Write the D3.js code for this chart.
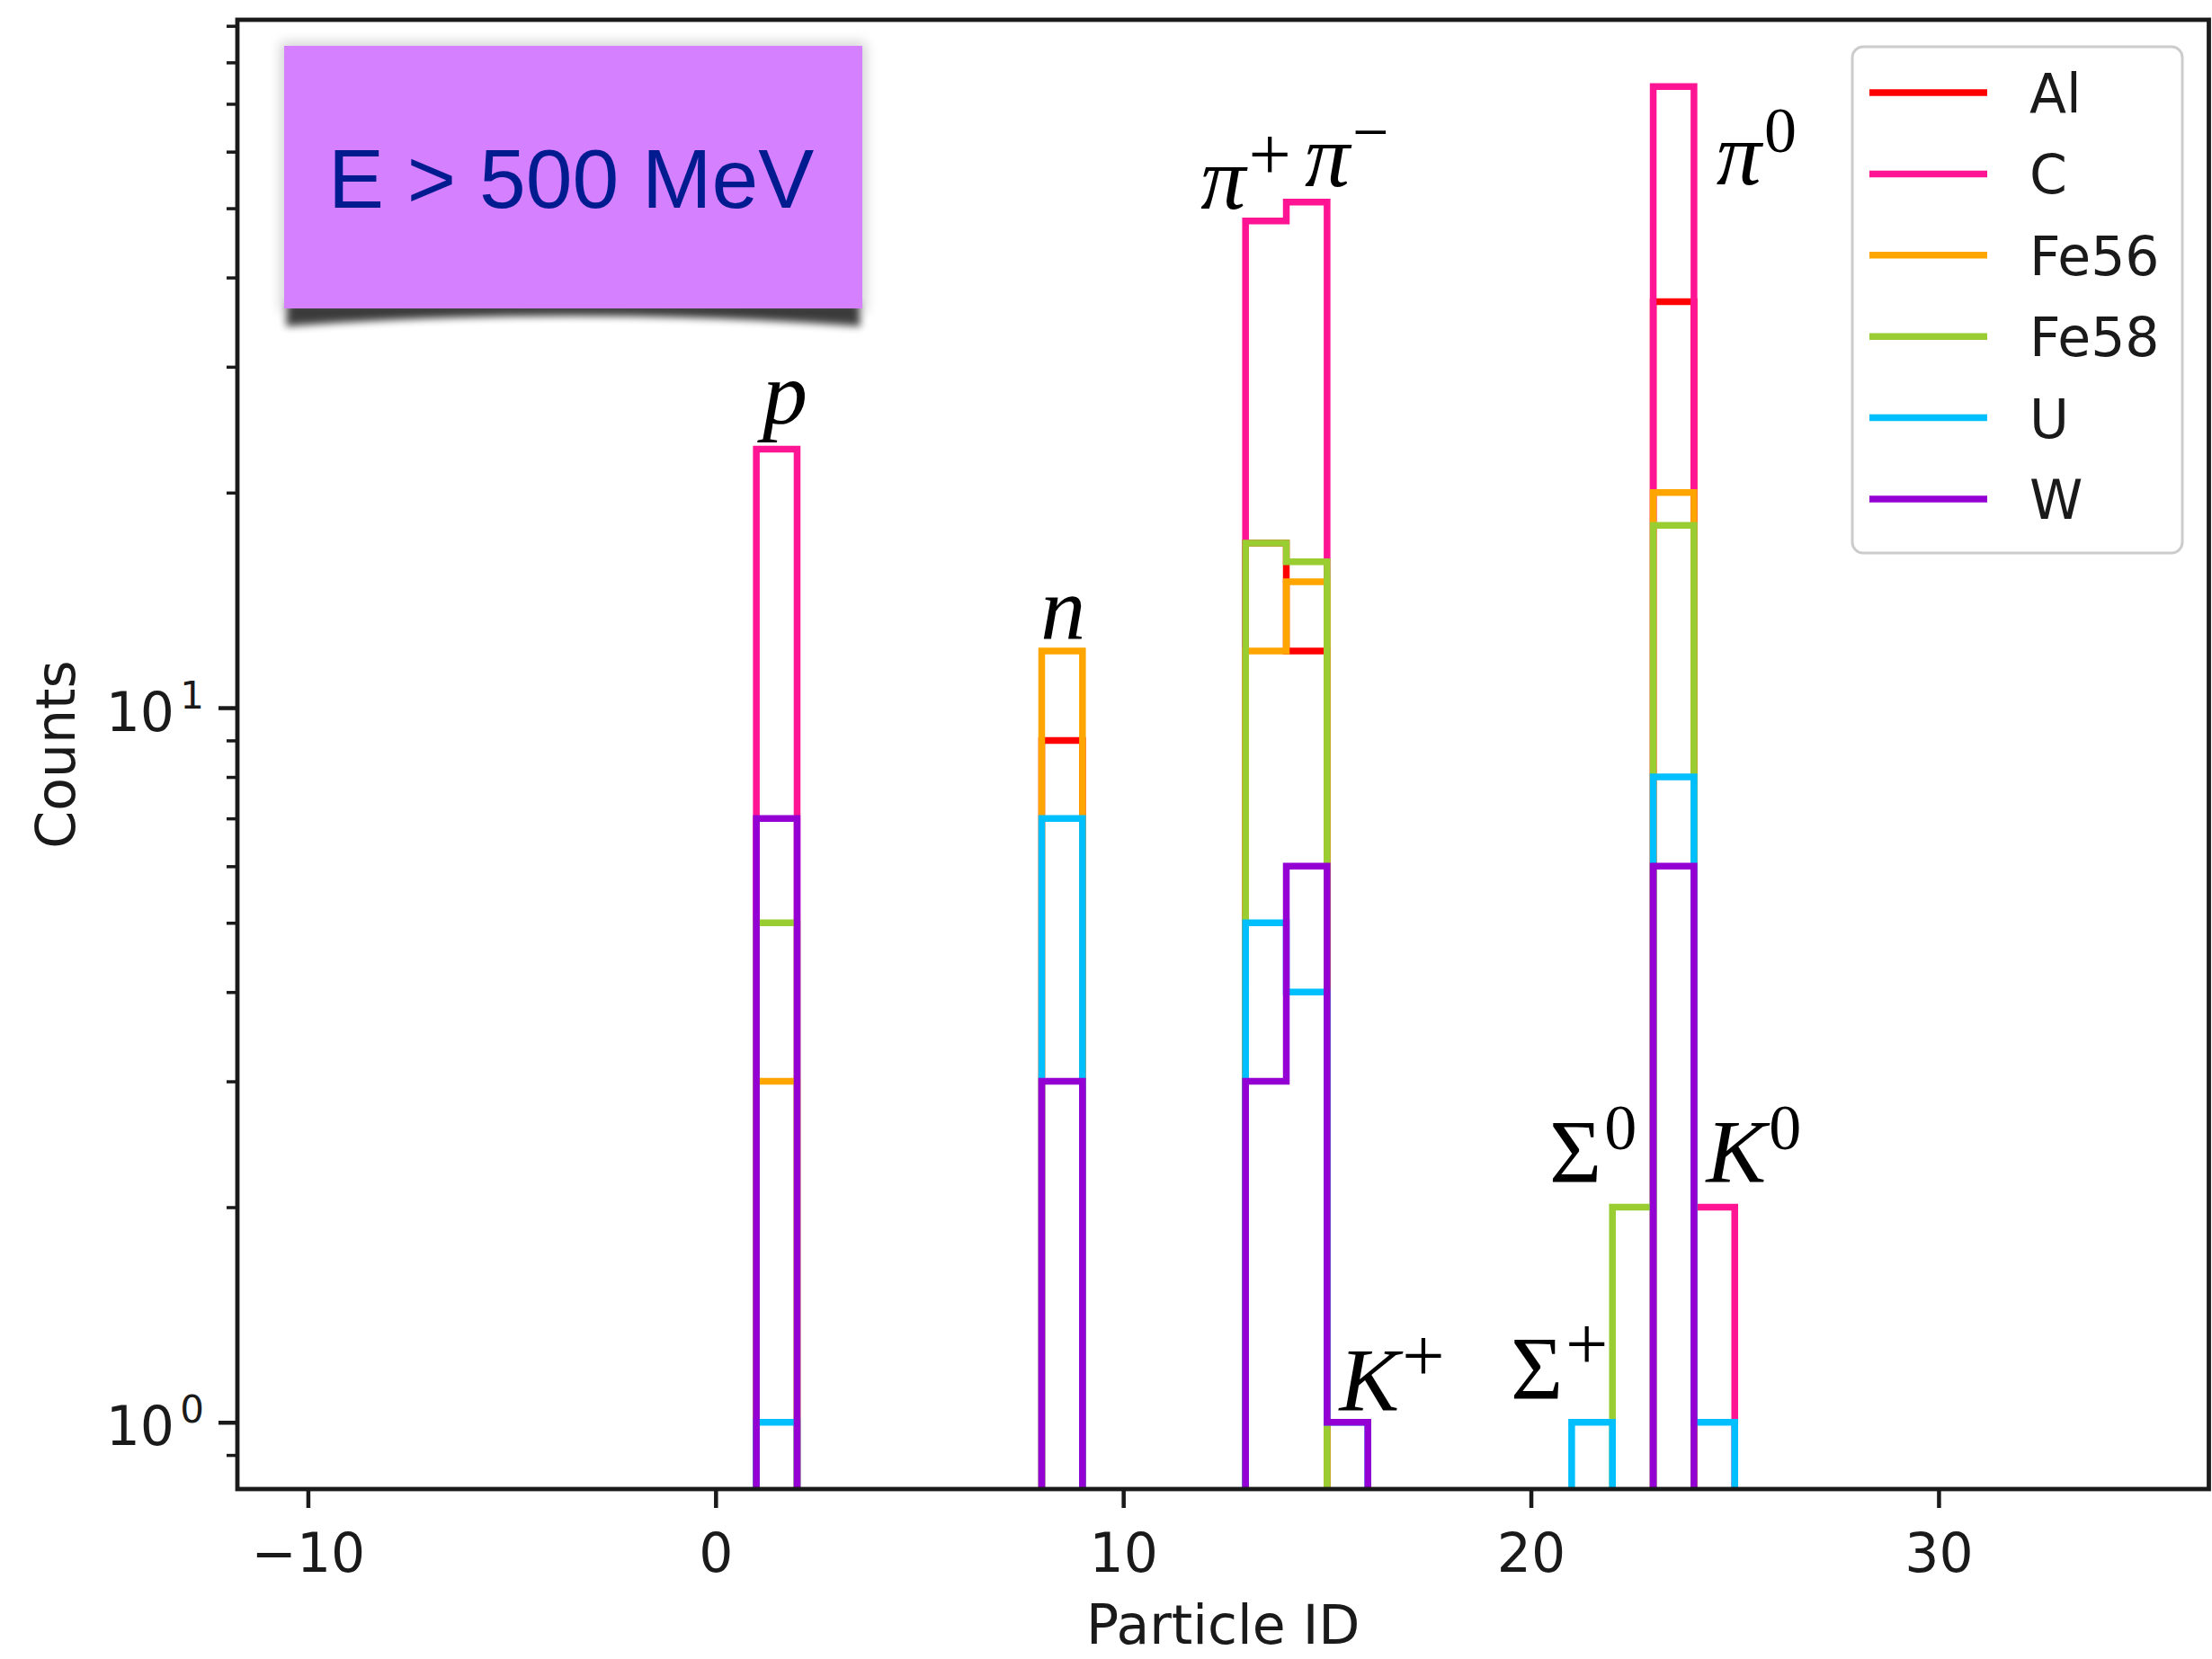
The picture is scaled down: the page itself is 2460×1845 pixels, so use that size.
<!DOCTYPE html>
<html><head><meta charset="utf-8">
<script src="https://cdn.jsdelivr.net/npm/d3@7"></script>
<style>html,body{margin:0;padding:0;background:#fff;} svg{display:block;}</style>
</head><body>
<svg id="chart" width="2460" height="1845"></svg>
<script>
// ---------------- data ----------------
const particleIds   = [1, 8, 13, 14, 15, 21, 22, 23, 24];
const particleNames = ["p", "n", "π+", "π−", "K+", "Σ+", "Σ0", "π0", "K0"];
const seriesNames   = ["Al", "C", "Fe56", "Fe58", "U", "W"];
const countsAl   = [0, 9, 17, 12, 0, 0, 0, 37, 0];
const countsC    = [23, 0, 48, 51, 0, 0, 0, 74, 2];
const countsFe56 = [3, 12, 12, 15, 0, 0, 0, 20, 0];
const countsFe58 = [5, 0, 17, 16, 0, 0, 2, 18, 0];
const countsU    = [1, 7, 5, 4, 1, 1, 0, 8, 1];
const countsW    = [7, 3, 3, 6, 1, 0, 0, 6, 0];
const xTickValues = [-10, 0, 10, 20, 30];
const yMajorTicks = [1, 10];
const yTickExponents = ["0", "1"];
// annotations (matplotlib-style text anchors in data coordinates)
const annBase   = ["p", "n", "π", "π", "K", "Σ", "Σ", "π", "K"];
const annSup    = ["", "", "+", "−", "+", "+", "0", "0", "0"];
const annX      = [1.15, 7.97, 11.9, 14.45, 15.3, 19.5, 20.45, 24.55, 24.3];
const annY      = [25, 12.5, 50, 53.7, 1.04, 1.08, 2.17, 54, 2.17];
const boxText = "E > 500 MeV";
const xLabel = "Particle ID";
const yLabel = "Counts";

// ---------------- styles / layout ----------------
const colors = ["#ff0000", "#ff1493", "#ffa500", "#9acd32", "#00bfff", "#9400d3"];
const allCounts = [countsAl, countsC, countsFe56, countsFe58, countsU, countsW];
const L = 264, R = 2456.5, T = 22, B = 1656;
const tickFont = "'DejaVu Sans', sans-serif";
const serif = "'Liberation Serif', 'Times New Roman', serif";

const svg = d3.select("#chart");
svg.append("rect").attr("width", 2460).attr("height", 1845).attr("fill", "#fff");

const x = d3.scaleLinear().domain([-11.73, 36.63]).range([L, R]);
const yMaxData = d3.max(allCounts.flat());
const lo = 0, hi = Math.log10(yMaxData), pad = 0.05 * (hi - lo);
const y = d3.scaleLog().domain([Math.pow(10, lo - pad), Math.pow(10, hi + pad)]).range([B, T]);

const defs = svg.append("defs");
defs.append("clipPath").attr("id", "plotclip").append("rect")
  .attr("x", L).attr("y", T).attr("width", R - L).attr("height", B - T);
const f1 = defs.append("filter").attr("id", "blur8").attr("x", "-20%").attr("y", "-20%").attr("width", "140%").attr("height", "160%");
f1.append("feGaussianBlur").attr("stdDeviation", 7);
const f2 = defs.append("filter").attr("id", "blur4").attr("x", "-20%").attr("y", "-50%").attr("width", "140%").attr("height", "200%");
f2.append("feGaussianBlur").attr("stdDeviation", 4);

// ---------------- histogram steps ----------------
const firstEdge = d3.min(particleIds), lastEdge = d3.max(particleIds) + 1;
const edges = d3.range(firstEdge, lastEdge);
const below = B + 40;
const gData = svg.append("g").attr("clip-path", "url(#plotclip)");
allCounts.forEach((counts, si) => {
  const byId = new Map(particleIds.map((id, i) => [id, counts[i]]));
  const p = d3.path();
  p.moveTo(x(firstEdge), below);
  edges.forEach(e => {
    const c = byId.get(e) || 0;
    const yy = c > 0 ? y(c) : below;
    p.lineTo(x(e), yy);
    p.lineTo(x(e + 1), yy);
  });
  p.lineTo(x(lastEdge), below);
  gData.append("path").attr("d", p.toString())
    .attr("fill", "none").attr("stroke", colors[si]).attr("stroke-width", 7.5)
    .attr("stroke-linejoin", "miter").attr("stroke-linecap", "butt");
});

// ---------------- axes ----------------
const xAxis = d3.axisBottom(x).tickValues(xTickValues).tickSize(21).tickPadding(28)
  .tickFormat(d => d < 0 ? "\u2212" + Math.abs(d) : String(d));
const gx = svg.append("g").attr("transform", `translate(0,${B})`).call(xAxis);
gx.select(".domain").remove();
gx.selectAll(".tick line").attr("stroke", "#1a1a1a").attr("stroke-width", 4.5);
gx.selectAll(".tick text").attr("font-family", tickFont).attr("font-size", 60).attr("fill", "#1a1a1a");

const [d0, d1] = y.domain();
const minorTicks = [];
for (let e = -1; e <= 2; e++) for (let m = 2; m <= 9; m++) {
  const v = m * Math.pow(10, e);
  if (v >= d0 && v <= d1) minorTicks.push(v);
}
const gyMinor = svg.append("g").attr("transform", `translate(${L},0)`)
  .call(d3.axisLeft(y).tickValues(minorTicks).tickSize(12).tickFormat(""));
gyMinor.select(".domain").remove();
gyMinor.selectAll(".tick line").attr("stroke", "#1a1a1a").attr("stroke-width", 3.5);

const gy = svg.append("g").attr("transform", `translate(${L},0)`)
  .call(d3.axisLeft(y).tickValues(yMajorTicks).tickSize(21).tickFormat(""));
gy.select(".domain").remove();
gy.selectAll(".tick line").attr("stroke", "#1a1a1a").attr("stroke-width", 4.5);
yMajorTicks.forEach((v, i) => {
  svg.append("text").attr("x", 194).attr("y", y(v) + 25.5).attr("text-anchor", "end")
    .attr("font-family", tickFont).attr("font-size", 60).attr("fill", "#1a1a1a").text("10");
  svg.append("text").attr("x", 227).attr("y", y(v) + 0.5).attr("text-anchor", "end")
    .attr("font-family", tickFont).attr("font-size", 42).attr("fill", "#1a1a1a").text(yTickExponents[i]);
});

// spines
svg.append("rect").attr("x", L).attr("y", T).attr("width", R - L).attr("height", B - T)
  .attr("fill", "none").attr("stroke", "#1a1a1a").attr("stroke-width", 4.8);

// axis labels
svg.append("text").attr("x", (L + R) / 2).attr("y", 1828).attr("text-anchor", "middle")
  .attr("font-family", tickFont).attr("font-size", 60).attr("fill", "#1a1a1a").text(xLabel);
svg.append("text").attr("transform", `translate(83,${(T + B) / 2}) rotate(-90)`).attr("text-anchor", "middle")
  .attr("font-family", tickFont).attr("font-size", 60).attr("fill", "#1a1a1a").text(yLabel);

// ---------------- annotations ----------------
annBase.forEach((b, i) => {
  const t = svg.append("text").attr("x", x(annX[i])).attr("y", y(annY[i]))
    .attr("font-family", serif).attr("fill", "#000");
  t.append("tspan").attr("font-size", 100).attr("font-style", b === "Σ" ? "normal" : "italic").text(b);
  const s = annSup[i];
  if (s) {
    const isPlus = s === "+";
    t.append("tspan").attr("font-size", isPlus ? 84 : 72).attr("dx", 3)
      .attr("dy", isPlus ? -32 : -36).attr("font-style", "normal").text(s);
  }
});

// ---------------- legend ----------------
const lgX = 2060, lgY = 52, lgW = 367, lgH = 563;
svg.append("rect").attr("x", lgX).attr("y", lgY).attr("width", lgW).attr("height", lgH)
  .attr("rx", 12).attr("ry", 12).attr("fill", "#fff").attr("fill-opacity", 0.8)
  .attr("stroke", "#cccccc").attr("stroke-width", 3);
seriesNames.forEach((n, i) => {
  const yy = 103 + i * 90.4;
  svg.append("line").attr("x1", 2079).attr("x2", 2210).attr("y1", yy).attr("y2", yy)
    .attr("stroke", colors[i]).attr("stroke-width", 7.5);
  svg.append("text").attr("x", 2257).attr("y", yy + 22).attr("font-family", tickFont)
    .attr("font-size", 60).attr("fill", "#1a1a1a").text(n);
});

// ---------------- text box with curled shadow ----------------
const bx = 316, by = 51, bw = 643, bh = 292;
svg.append("rect").attr("x", bx - 4).attr("y", by - 4).attr("width", bw + 8).attr("height", bh + 8)
  .attr("fill", "#000").attr("opacity", 0.18).attr("filter", "url(#blur8)");
svg.append("path")
  .attr("d", `M${bx + 4},${by + bh - 6} L${bx + bw - 4},${by + bh - 6} L${bx + bw - 2},${by + bh + 20} Q${bx + bw / 2},${by + bh - 4} ${bx + 2},${by + bh + 20} Z`)
  .attr("fill", "#000").attr("opacity", 0.75).attr("filter", "url(#blur4)");
svg.append("rect").attr("x", bx).attr("y", by).attr("width", bw).attr("height", bh).attr("fill", "#d580ff");
svg.append("text").attr("x", 365).attr("y", 231).attr("font-family", "'Liberation Sans', Arial, sans-serif")
  .attr("font-size", 93).attr("fill", "#001a8f").text(boxText);
</script>
</body></html>
